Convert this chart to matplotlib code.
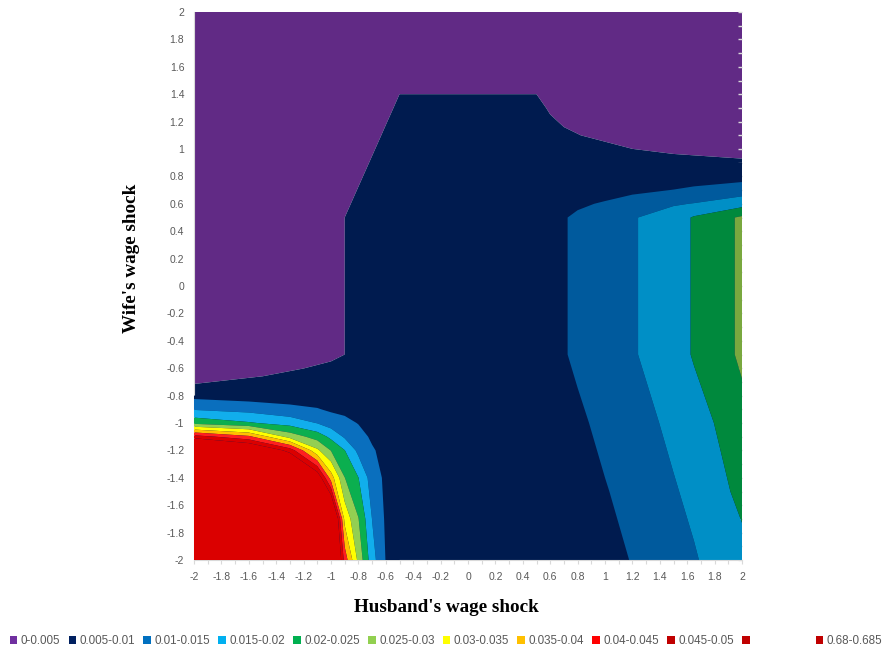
import matplotlib
matplotlib.use('Agg')
import matplotlib.pyplot as plt
from matplotlib import font_manager
from matplotlib.patches import Patch
from matplotlib.ticker import MultipleLocator

# band edges of the contour chart
levels = [0, 0.005, 0.01, 0.015, 0.02, 0.025, 0.03, 0.035, 0.04, 0.045, 0.05, 0.685]

legend_labels = ['0-0.005', '0.005-0.01', '0.01-0.015', '0.015-0.02', '0.02-0.025',
                 '0.025-0.03', '0.03-0.035', '0.035-0.04', '0.04-0.045', '0.045-0.05',
                 '', '0.68-0.685']
legend_colors = ['#7030A0', '#002060', '#0070C0', '#00B0F0', '#00B050', '#92D050',
                 '#FFFF00', '#FFC000', '#FF0000', '#C00000', '#C00000', '#C00000']

# shaded surface colours (left part lit, right part darker)
lit_colors = ['#612A85', '#001B4F', '#0A6FBE', '#11AEEC', '#0BAF4F', '#93CF52',
              '#FFFF00', '#FFC000', '#FF1F1F', '#DB0000', '#DB0000']
dark_colors = ['#612A85', '#001B4F', '#005A9D', '#008FC6', '#00893D', '#79A83F',
               '#FFFF00', '#FFC000', '#FF1F1F', '#DB0000', '#DB0000']

tick_labels = ['-2', '-1.8', '-1.6', '-1.4', '-1.2', '-1', '-0.8', '-0.6', '-0.4', '-0.2', '0',
               '0.2', '0.4', '0.6', '0.8', '1', '1.2', '1.4', '1.6', '1.8', '2']
tick_values = [float(t) for t in tick_labels]

# probability surface, main sheet (husband shock across, wife shock up)
main_x = [-2.0, -1.5, -1.2, -1.0, -0.8, -0.6, -0.5, 0.5, 0.6, 0.7, 0.8, 1.2, 1.5, 2.0]
main_y = [-2.0, -0.8, -0.5, 0.5, 0.9, 1.1, 1.3, 1.5, 2.0]
main_z = [
    [0.0075, 0.0075, 0.0075, 0.0075, 0.0075, 0.0075, 0.0075, 0.0075, 0.0075, 0.0075, 0.0075, 0.0075, 0.0075, 0.0075],
    [0.00579, 0.00677, 0.00888, 0.0075, 0.0075, 0.0075, 0.0075, 0.0075, 0.0075, 0.0075, 0.0075, 0.0075, 0.0075, 0.0075],
    [0.003, 0.003, 0.003, 0.0045, 0.0055, 0.007, 0.0075, 0.0075, 0.0075, 0.0075, 0.0075, 0.0075, 0.0075, 0.0075],
    [0.003, 0.003, 0.003, 0.0027, 0.0073, 0.0075, 0.0075, 0.0075, 0.0075, 0.0075, 0.0075, 0.0075, 0.0075, 0.0075],
    [0.003, 0.003, 0.003, 0.003, 0.00321, 0.0078, 0.0075, 0.0075, 0.0075, 0.0075, 0.0075, 0.00704, 0.00594, 0.00535],
    [0.003, 0.003, 0.003, 0.003, 0.00115, 0.00576, 0.0075, 0.0075, 0.00636, 0.00586, 0.00512, 0.003, 0.003, 0.003],
    [0.003, 0.003, 0.003, 0.003, 0.003, 0.00373, 0.006, 0.006, 0.00457, 0.003, 0.003, 0.003, 0.003, 0.003],
    [0.004, 0.004, 0.004, 0.004, 0.004, 0.004, 0.004, 0.004, 0.004, 0.003, 0.003, 0.003, 0.003, 0.003],
    [0.003, 0.003, 0.003, 0.003, 0.003, 0.003, 0.003, 0.003, 0.003, 0.003, 0.003, 0.003, 0.003, 0.003],
]

# right-hand sheet: positive husband shock
right_x = [0.5, 0.6, 0.8, 1.0, 1.2, 1.5, 1.65, 2.0]
right_y = [-2.0, -1.5, -1.0, -0.5, 0.5, 0.6, 0.7, 0.8, 0.9]
right_z = [
    [0.006, 0.0062, 0.0067, 0.008, 0.01027, 0.01303, 0.0146, 0.0185],
    [0.0063, 0.0065, 0.0075, 0.00968, 0.01168, 0.0146, 0.01605, 0.02126],
    [0.0067, 0.0072, 0.00909, 0.01127, 0.01303, 0.01605, 0.0175, 0.02353],
    [0.0075, 0.0085, 0.01086, 0.0125, 0.0146, 0.0175, 0.0205, 0.0258],
    [0.0075, 0.0085, 0.01086, 0.0125, 0.0146, 0.0175, 0.0205, 0.0258],
    [0.0075, 0.008, 0.00924, 0.0105, 0.0118, 0.0145, 0.0152, 0.01806],
    [0.0075, 0.0077, 0.0082, 0.008, 0.00911, 0.0101, 0.0112, 0.01244],
    [0.0075, 0.0075, 0.0075, 0.0075, 0.0075, 0.0075, 0.0068, 0.0083],
    [0.0075, 0.0075, 0.0075, 0.0075, 0.0075, 0.0075, 0.0075, 0.0075],
]

# lower-left sheet: both shocks strongly negative
corner_x = [-2.0, -1.6, -1.3, -1.1, -1.0, -0.9, -0.8, -0.7, -0.6, -0.5]
corner_y = [-2.0, -1.7, -1.4, -1.2, -1.1, -1.0, -0.9, -0.8]
corner_z = [
    [0.684, 0.3, 0.15, 0.1, 0.07, 0.043, 0.0286, 0.017, 0.0098, 0.0075],
    [0.2, 0.15, 0.1, 0.08, 0.0676, 0.0335, 0.0252, 0.0149, 0.0093, 0.0075],
    [0.1, 0.08, 0.07, 0.0553, 0.0376, 0.0251, 0.0201, 0.0125, 0.009, 0.0075],
    [0.07, 0.06, 0.048, 0.031, 0.0248, 0.0201, 0.0137, 0.0105, 0.0085, 0.0075],
    [0.0474, 0.0412, 0.028, 0.0228, 0.0188, 0.0143, 0.0117, 0.0093, 0.0082, 0.0075],
    [0.0235, 0.0205, 0.018, 0.0148, 0.0125, 0.0113, 0.0098, 0.0085, 0.008, 0.0075],
    [0.0146, 0.0133, 0.01135, 0.01028, 0.0093, 0.0088, 0.0085, 0.0078, 0.0077, 0.0075],
    [0.00847, 0.0075, 0.0075, 0.0075, 0.0075, 0.0075, 0.0075, 0.0075, 0.0075, 0.0075],
]

installed = {f.name for f in font_manager.fontManager.ttflist}
narrow = 'Liberation Sans Narrow' in installed
sans = 'Liberation Sans Narrow' if narrow else 'Liberation Sans'
tick_size = 8.3 if narrow else 7.5
legend_size = 9.3 if narrow else 8.4

fig = plt.figure(figsize=(8.85, 6.53), dpi=100)
ax = fig.add_axes([194 / 885, 1 - 560 / 653, 548 / 885, 548 / 653])

ax.contourf(main_x, main_y, main_z, levels=levels, colors=lit_colors, antialiased=True, zorder=1)
ax.contourf(right_x, right_y, right_z, levels=levels, colors=dark_colors, antialiased=True, zorder=2)
ax.contourf(corner_x, corner_y, corner_z, levels=levels, colors=lit_colors, antialiased=True, zorder=3)

ax.set_xlim(-2, 2)
ax.set_ylim(-2, 2)
ax.set_xticks(tick_values)
ax.set_xticklabels(tick_labels)
ax.set_yticks(tick_values)
ax.set_yticklabels(tick_labels)
ax.xaxis.set_minor_locator(MultipleLocator(0.1))
ax.yaxis.set_minor_locator(MultipleLocator(0.1))

ax.tick_params(axis='x', which='both', direction='out', length=3, width=0.8,
               color='#D9D9D9', labelsize=tick_size, labelcolor='#595959', pad=6)
ax.tick_params(axis='y', which='both', left=False, right=True, direction='in',
               length=3, width=1, color='#D9D9D9', labelsize=tick_size,
               labelcolor='#595959', pad=7)
for lab in ax.get_xticklabels() + ax.get_yticklabels():
    lab.set_fontfamily(sans)

for side in ['top', 'right']:
    ax.spines[side].set_visible(False)
for side in ['left', 'bottom']:
    ax.spines[side].set_color('#D9D9D9')
    ax.spines[side].set_linewidth(0.8)

fig.text(446 / 885, 1 - 607 / 653, "Husband's wage shock", ha='center', va='center',
         fontsize=13.8, fontweight='bold', family='Liberation Serif')
fig.text(131 / 885, 1 - 258 / 653, "Wife's wage shock", ha='center', va='center',
         rotation=90, fontsize=13.8, fontweight='bold', family='Liberation Serif')

handles = [Patch(facecolor=c, edgecolor='none') for c in legend_colors]
leg1 = fig.legend(handles[:11], legend_labels[:11], loc='center left',
                  bbox_to_anchor=(4 / 885, 1 - 641 / 653), ncol=11, frameon=False,
                  handlelength=0.65, handleheight=0.65, handletextpad=0.3,
                  columnspacing=0.7, borderpad=0,
                  prop={'family': sans, 'size': legend_size})
leg2 = fig.legend(handles[11:], legend_labels[11:], loc='center left',
                  bbox_to_anchor=(810 / 885, 1 - 641 / 653), frameon=False,
                  handlelength=0.65, handleheight=0.65, handletextpad=0.3, borderpad=0,
                  prop={'family': sans, 'size': legend_size})
for leg in (leg1, leg2):
    for t in leg.get_texts():
        t.set_color('#595959')

fig.savefig('out.png', dpi=100)
